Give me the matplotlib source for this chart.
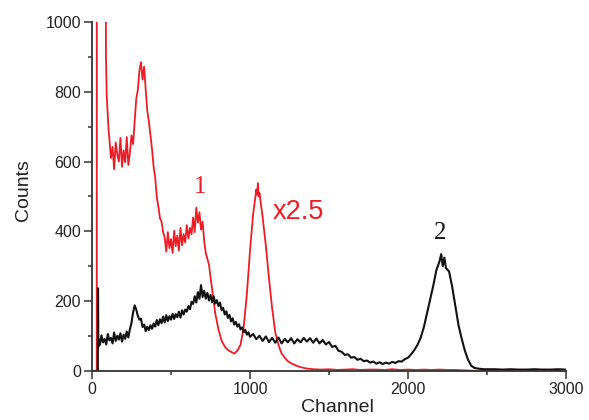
import matplotlib
matplotlib.use('Agg')
import matplotlib.pyplot as plt
from matplotlib.ticker import MultipleLocator

# red spectrum (sample 1, scaled x2.5)
red_ch = [0, 30, 31, 86, 88, 93, 100, 105,
          110, 120, 130, 140, 150, 160, 170, 180, 190, 200, 210, 220, 230, 240, 250, 260,
          270, 280, 290, 300, 310, 320, 330, 340, 350, 360, 370, 380, 390, 400, 410, 420,
          430, 440, 450, 460, 470, 480, 490, 500, 510, 520, 530, 540, 550, 560, 570, 580,
          590, 600, 610, 620, 630, 640, 650, 660, 670, 680, 690, 700, 710, 720,
          740, 760, 780, 800, 820, 840, 860, 880, 900, 920, 940, 960, 980, 1000, 1020,
          1040, 1045, 1050, 1055, 1060, 1080, 1100, 1120, 1140, 1160, 1180, 1200, 1220,
          1240, 1260, 1280, 1300, 1320, 1340, 1360, 1380, 1400,
          1450, 1500, 1550, 1600, 1650, 1700, 1750, 1800, 1850, 1900, 1950, 2000, 2050,
          2100, 2150, 2200, 2250, 2300, 2350, 2400, 2450, 2500, 2600, 2800, 3000]
red_counts = [0, 0, 3000, 3000, 910, 790, 730, 690,
              665, 610, 642, 578, 655, 620, 600, 668, 585, 632, 598, 670, 590, 625, 675, 650,
              715, 780, 805, 860, 885, 835, 872, 805, 745, 715, 675, 635, 585, 555, 498, 472,
              438, 428, 398, 382, 342, 398, 352, 378, 338, 402, 358, 388, 345, 410, 360, 392,
              368, 418, 380, 410, 392, 440, 398, 468, 425, 455, 405, 428, 372, 338,
              305, 235, 165, 120, 87, 70, 60, 55, 50, 58, 75, 125, 220, 345, 450,
              520, 505, 538, 500, 510, 440, 360, 265, 180, 110, 75, 50, 38,
              28, 22, 18, 14, 11, 9, 7, 6, 5,
              4, 5, 3, 4, 5, 3, 4, 4, 3, 5, 3, 4, 3,
              4, 3, 4, 3, 3, 2, 1, 0, 0, 0, 0, 0]

# black spectrum (sample 2)
blk_ch = [0, 37, 38, 40, 45,
          50, 60, 70, 80, 90, 100, 110, 120, 130, 140, 150, 160, 170, 180, 190, 200,
          210, 220, 230, 240, 250, 260, 270, 280, 290, 300, 310, 320, 330, 340, 350, 360,
          370, 380, 390, 400, 410, 420, 430, 440, 450, 460, 470, 480, 490, 500, 510, 520,
          530, 540, 550, 560, 570, 580, 590, 600, 610, 620, 630, 640, 650, 660, 670, 680,
          690, 700, 710, 720, 730, 740, 750, 760, 770, 780, 790, 800, 810, 820, 830, 840,
          850, 860, 870, 880, 890, 900, 910, 920, 930, 940, 950, 960, 970, 980, 990, 1000,
          1020, 1040, 1060, 1080, 1100, 1120, 1140, 1160, 1180, 1200, 1220, 1240, 1260,
          1280, 1300, 1320, 1340, 1360, 1380, 1400, 1420, 1440, 1460, 1480, 1500, 1520,
          1540, 1560, 1580, 1600, 1620, 1640, 1660, 1680, 1700, 1720, 1740, 1760, 1780,
          1800, 1820, 1840, 1860, 1880, 1900, 1920, 1940, 1960, 1980, 2000, 2020, 2040,
          2060, 2080, 2100, 2120, 2140, 2160, 2180, 2200, 2210, 2220, 2230, 2240, 2260,
          2280, 2300, 2320, 2340, 2360, 2380, 2400, 2420, 2440, 2460, 2480, 2500,
          2550, 2600, 2650, 2700, 2750, 2800, 2850, 2900, 2950, 3000]
blk_counts = [0, 0, 237, 70, 90,
              75, 102, 82, 92, 76, 106, 88, 95, 79, 110, 86, 101, 90, 108, 84, 104,
              92, 113, 96, 120, 138, 168, 188, 176, 158, 147, 150, 126, 133, 114, 127, 117,
              131, 121, 136, 127, 146, 131, 148, 137, 156, 139, 160, 143, 157, 147, 164, 149,
              163, 154, 170, 153, 174, 162, 176, 170, 186, 177, 198, 192, 214, 196, 226, 207,
              246, 212, 230, 207, 224, 202, 218, 197, 214, 193, 203, 186, 196, 174, 181, 162,
              171, 152, 161, 142, 151, 133, 141, 127, 134, 119, 125, 111, 118, 104, 111, 98,
              106, 91, 101, 86, 99, 83, 95, 81, 96, 79, 92, 82, 94,
              79, 91, 82, 95, 84, 94, 81, 93, 79, 89, 76, 83, 69,
              72, 58, 55, 46, 48, 38, 40, 32, 35, 28, 30, 24, 27,
              21, 25, 20, 24, 21, 26, 23, 28, 27, 34, 38, 48, 60,
              75, 95, 125, 165, 205, 245, 290, 315, 335, 300, 325, 295, 285,
              240, 185, 130, 92, 58, 32, 15, 9, 7, 6, 5, 5,
              5, 4, 5, 4, 4, 5, 4, 4, 5, 4]

red = '#ee1c25'

fig = plt.figure(figsize=(5.89, 4.2), dpi=100)
ax = fig.add_axes([0.1562, 0.1167, 0.8048, 0.8310])

ax.plot(red_ch, red_counts, color=red, lw=1.3)
ax.plot(blk_ch, blk_counts, color='#111111', lw=1.5)

ax.set_xlim(0, 3000)
ax.set_ylim(0, 1000)
ax.xaxis.set_major_locator(MultipleLocator(1000))
ax.xaxis.set_minor_locator(MultipleLocator(500))
ax.yaxis.set_major_locator(MultipleLocator(200))
ax.yaxis.set_minor_locator(MultipleLocator(100))

for s in ['top', 'right']:
    ax.spines[s].set_visible(False)
for s in ['left', 'bottom']:
    ax.spines[s].set_color('#333333')
    ax.spines[s].set_linewidth(1.3)

ax.tick_params(which='major', length=5.5, width=1.1, color='#333333',
               labelsize=11.5, labelcolor='#222222', pad=2.5)
ax.tick_params(which='minor', length=3, width=1.1, color='#333333')
for lab in ax.get_xticklabels() + ax.get_yticklabels():
    lab.set_family('Liberation Sans')

ax.set_xlabel('Channel', fontsize=14, family='Liberation Sans', color='#222222', va='top')
ax.set_ylabel('Counts', fontsize=14, family='Liberation Sans', color='#222222')
ax.xaxis.set_label_coords(0.518, -0.080)
ax.yaxis.set_label_coords(-0.127, 0.517)

ax.text(683, 527, '1', color=red, fontsize=18, family='Liberation Serif',
        ha='center', va='center')
ax.text(1146, 456, 'x2.5', color=red, fontsize=19.5, family='Liberation Sans',
        ha='left', va='center')
ax.text(2203, 395, '2', color='#111111', fontsize=18, family='Liberation Serif',
        ha='center', va='center')

plt.savefig('out.png', dpi=100)
